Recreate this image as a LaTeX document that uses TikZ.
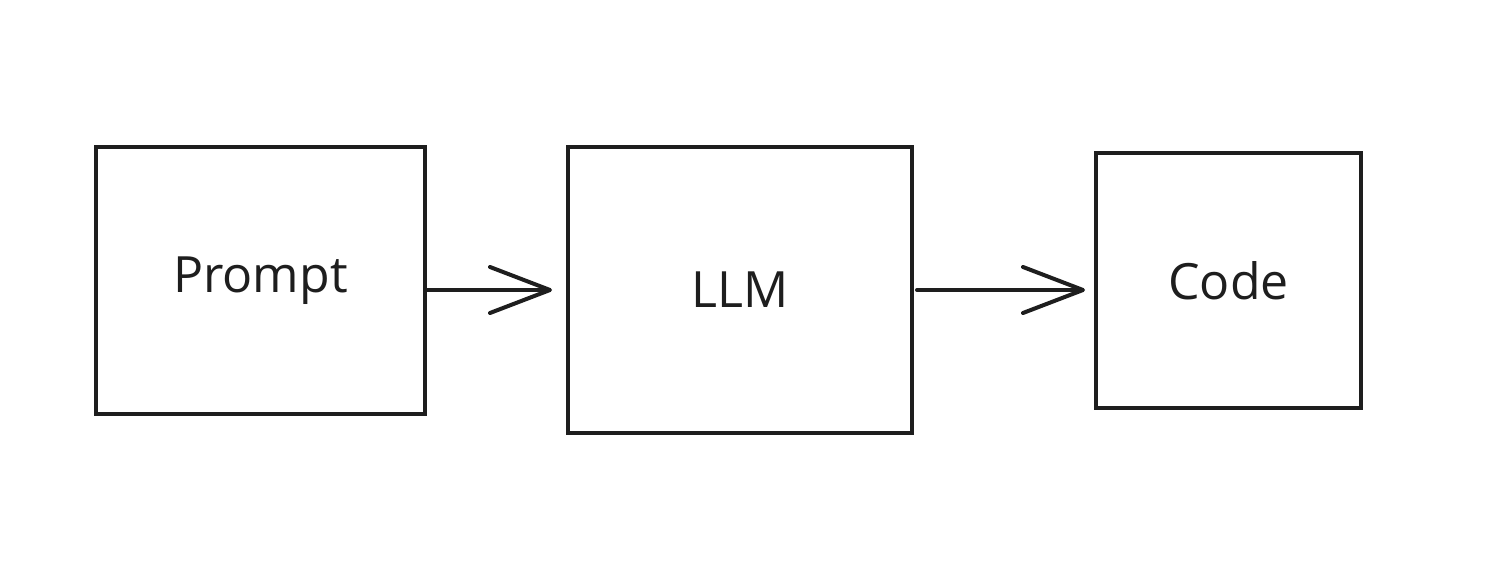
\documentclass[tikz,border=0pt]{standalone}
\usepackage{fontspec}
\setmainfont{Open Sans}
\usetikzlibrary{arrows.meta}
\newlength{\du}
\setlength{\du}{0.5pt}
\definecolor{inkcolor}{rgb}{0.117647, 0.117647, 0.117647}
\tikzset{
  stagebox/.style={draw=inkcolor, line width=4\du, inner sep=0pt, text=inkcolor,
    font=\fontsize{25}{30}\selectfont},
  flowarrow/.style={draw=inkcolor, line width=4\du, line cap=round,
    -{Straight Barb[length=30pt, width=23pt, line width=2pt, round]}}
}
\begin{document}
\begin{tikzpicture}
\pgftransformxscale{1.000000}
\pgftransformyscale{-1.000000}
\definecolor{dialinecolor}{rgb}{1.000000, 1.000000, 1.000000}
\pgfsetfillcolor{dialinecolor}
\useasboundingbox[fill=dialinecolor] (0\du,0\du) rectangle (1490\du,577\du);
\node[stagebox, minimum width=329\du, minimum height=267\du] (prompt) at (260.5\du,280.5\du) {Prompt};
\node[stagebox, minimum width=344\du, minimum height=286\du] (llm) at (740\du,290\du) {LLM};
\node[stagebox, minimum width=265\du, minimum height=255\du] (code) at (1228.5\du,280.5\du) {Code};
% was here!!!
\draw[flowarrow, shorten >=14\du] (prompt.east |- llm.west) -- (llm.west);
\draw[flowarrow, shorten <=3\du, shorten >=9\du] (llm.east) -- (code.west |- llm.east);
\end{tikzpicture}
\end{document}
